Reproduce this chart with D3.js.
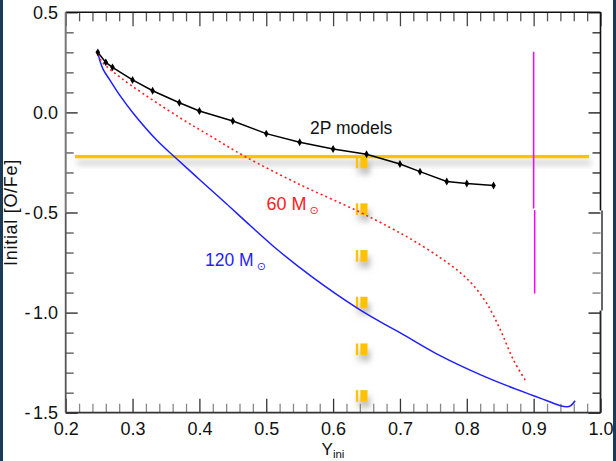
<!DOCTYPE html>
<html><head><meta charset="utf-8">
<script src="https://cdn.jsdelivr.net/npm/d3@7"></script>
<style>body{margin:0;background:#fff;}svg{display:block;font-family:"Liberation Sans",Arial,sans-serif;}</style>
</head><body>
<script>
// ---- data ----
const xTicksMajor = [0.2,0.3,0.4,0.5,0.6,0.7,0.8,0.9,1.0];
const yTicksMajor = [0.5,0.0,-0.5,-1.0,-1.5];
const xTwoP = [0.248,0.26,0.27,0.30,0.33,0.37,0.40,0.45,0.50,0.55,0.60,0.65,0.70,0.73,0.77,0.80,0.84];
const yTwoP = [0.30,0.25,0.225,0.162,0.108,0.048,0.007,-0.043,-0.106,-0.149,-0.183,-0.209,-0.258,-0.296,-0.345,-0.355,-0.365];
const x60 = [0.248,0.255,0.27,0.30,0.37,0.42,0.467,0.55,0.635,0.685,0.72,0.76,0.79,0.81,0.83,0.85,0.87,0.889];
const y60 = [0.29,0.25,0.205,0.13,-0.025,-0.125,-0.218,-0.36,-0.49,-0.575,-0.64,-0.725,-0.8,-0.865,-0.955,-1.085,-1.238,-1.346];
const x120 = [0.248,0.251,0.256,0.266,0.28,0.301,0.336,0.3635,0.40,0.44,0.476,0.52,0.57,0.635,0.67,0.70,0.76,0.82,0.86,0.90,0.92,0.94,0.95,0.955,0.962];
const y120 = [0.30,0.26,0.215,0.162,0.09,-0.004,-0.138,-0.224,-0.335,-0.455,-0.565,-0.695,-0.825,-0.975,-1.045,-1.10,-1.215,-1.31,-1.365,-1.415,-1.44,-1.465,-1.47,-1.466,-1.44];
const hLineY = -0.221;         // horizontal yellow line
const hLineX = [0.214, 0.983];
const vDashX = 0.643;          // yellow dashed vertical
const magentaX = [0.9, 0.9015];
const magentaY = [[0.303,-0.48],[-0.488,-0.905]];
const labels = {twoP:"2P models", m60:"60 M", m120:"120 M", sun:"\u2299", xTitle:"Y", xSub:"ini", yTitle:"Initial [O/Fe]"};

const W=616,H=461;
const svg=d3.select("body").append("svg").attr("width",W).attr("height",H);
const x=d3.scaleLinear([0.2,1.0],[65.7,600.5]);
const y=d3.scaleLinear([-1.5,0.5],[412.7,12.3]);

// frame side bands
svg.append("rect").attr("x",0).attr("y",0).attr("width",3).attr("height",H).attr("fill","#1b3a58");
svg.append("rect").attr("x",613).attr("y",0).attr("width",3).attr("height",H).attr("fill","#1b3a58");

const defs=svg.append("defs");
function shadow(id,op){
  const f=defs.append("filter").attr("id",id).attr("x","-100%").attr("y","-300%").attr("width","300%").attr("height","700%");
  f.append("feGaussianBlur").attr("in","SourceAlpha").attr("stdDeviation",3).attr("result","b");
  f.append("feOffset").attr("in","b").attr("dx",2).attr("dy",6).attr("result","o");
  f.append("feFlood").attr("flood-color","#808080").attr("flood-opacity",op).attr("result","c");
  f.append("feComposite").attr("in","c").attr("in2","o").attr("operator","in").attr("result","s");
  const m=f.append("feMerge"); m.append("feMergeNode").attr("in","s"); m.append("feMergeNode").attr("in","SourceGraphic");
}
shadow("sh",0.55); shadow("sh2",0.6);

// axes
const xMinor=d3.range(0.2,1.0001,0.02).filter(v=>Math.abs(v*10-Math.round(v*10))>1e-6);
const yMinor=d3.range(-1.5,0.5001,0.1).filter(v=>Math.abs(v*2-Math.round(v*2))>1e-6);

function styleAxis(g,col){g.select(".domain").remove();g.selectAll("line").attr("stroke",col).attr("stroke-width",1.3);}

const gb=svg.append("g").attr("transform",`translate(0,${y(-1.5)})`);
gb.call(d3.axisBottom(x).tickValues(xTicksMajor).tickSize(-14).tickPadding(9.5).tickFormat(d3.format(".1f")));
styleAxis(gb,"#333");
gb.selectAll("text").attr("font-size",18).attr("fill","#111");
const gbm=svg.append("g").attr("transform",`translate(0,${y(-1.5)})`).call(d3.axisBottom(x).tickValues(xMinor).tickSize(-9).tickFormat(""));
styleAxis(gbm,"#888");

const gt=svg.append("g").attr("transform",`translate(0,${y(0.5)})`).call(d3.axisTop(x).tickValues(xTicksMajor).tickSize(-14).tickFormat(""));
styleAxis(gt,"#444");
const gtm=svg.append("g").attr("transform",`translate(0,${y(0.5)})`).call(d3.axisTop(x).tickValues(xMinor).tickSize(-9).tickFormat(""));
styleAxis(gtm,"#555");

const gl=svg.append("g").attr("transform",`translate(${x(0.2)},0)`);
gl.call(d3.axisLeft(y).tickValues(yTicksMajor).tickSize(-12).tickPadding(7.7).tickFormat(d3.format(".1f")));
styleAxis(gl,"#222");
gl.selectAll("text").attr("font-size",18).attr("fill","#111").each(function(d){
  if(d<0){const t=d3.select(this);t.text("");t.append("tspan").text("-");t.append("tspan").attr("dx",2.5).text(d3.format(".1f")(-d));}
});
const glm=svg.append("g").attr("transform",`translate(${x(0.2)},0)`).call(d3.axisLeft(y).tickValues(yMinor).tickSize(-8).tickFormat(""));
styleAxis(glm,"#555");

const gr=svg.append("g").attr("transform",`translate(${x(1.0)},0)`).call(d3.axisRight(y).tickValues(yTicksMajor).tickSize(-12).tickFormat(""));
styleAxis(gr,"#111");
const grm=svg.append("g").attr("transform",`translate(${x(1.0)},0)`).call(d3.axisRight(y).tickValues(yMinor).tickSize(-8).tickFormat(""));
styleAxis(grm,"#222");
grm.selectAll(".tick").filter(d=>d<-0.5&&d>-1.0).selectAll("line").attr("stroke","#777");

// frame lines
svg.append("line").attr("x1",x(0.2)).attr("x2",x(1.0)).attr("y1",y(0.5)).attr("y2",y(0.5)).attr("stroke","#111").attr("stroke-width",1.6);
svg.append("line").attr("x1",x(0.2)).attr("x2",x(1.0)).attr("y1",y(-1.5)).attr("y2",y(-1.5)).attr("stroke","#333").attr("stroke-width",1.8);
svg.append("line").attr("x1",x(0.2)).attr("x2",x(0.2)).attr("y1",y(0.5)).attr("y2",y(-0.5)).attr("stroke","#777").attr("stroke-width",2);
svg.append("line").attr("x1",x(0.2)).attr("x2",x(0.2)).attr("y1",y(-0.5)).attr("y2",y(-1.5)).attr("stroke","#555").attr("stroke-width",1.8);
svg.append("line").attr("x1",x(1.0)).attr("x2",x(1.0)).attr("y1",y(0.5)).attr("y2",y(-0.49)).attr("stroke","#111").attr("stroke-width",1.6);
svg.append("line").attr("x1",x(1.0)+1.5).attr("x2",x(1.0)+1.5).attr("y1",y(-0.49)).attr("y2",y(-0.99)).attr("stroke","#666").attr("stroke-width",2);
svg.append("line").attr("x1",x(1.0)).attr("x2",x(1.0)).attr("y1",y(-0.99)).attr("y2",y(-1.5)).attr("stroke","#222").attr("stroke-width",1.8);

// axis titles
const xt=svg.append("text").attr("x",333).attr("y",455).attr("font-size",17).attr("fill","#111").attr("text-anchor","middle");
xt.append("tspan").text(labels.xTitle);
xt.append("tspan").attr("font-size",11.5).attr("dy",2.5).text(labels.xSub);
svg.append("text").attr("transform","translate(16.5,212.5) rotate(-90)").attr("text-anchor","middle")
  .attr("font-size",18).attr("letter-spacing",0.7).attr("fill","#111").text(labels.yTitle);

// yellow horizontal line with shadow
svg.append("rect").attr("x",x(hLineX[0])).attr("y",y(hLineY)-1.7).attr("width",x(hLineX[1])-x(hLineX[0])).attr("height",3.4)
  .attr("fill","#ffc200").attr("filter","url(#sh)");

// yellow dashed vertical
const dashStarts=d3.range(0,6).map(i=>y(hLineY)+i*46.7);
const dg=svg.append("g").attr("filter","url(#sh2)");
dashStarts.forEach(s=>{
  dg.append("rect").attr("x",x(vDashX)-6).attr("y",s).attr("width",2.4).attr("height",11.7).attr("fill","#ffc200");
  dg.append("rect").attr("x",x(vDashX)-1.5).attr("y",s).attr("width",7.2).attr("height",11.7).attr("fill","#ffc200");
});

// magenta
magentaY.forEach((seg,i)=>{
  svg.append("line").attr("x1",x(magentaX[i])).attr("x2",x(magentaX[i])).attr("y1",y(seg[0])).attr("y2",y(seg[1]))
    .attr("stroke","#ff00ff").attr("stroke-width",1.5);
});

// curves
const line=d3.line().x(d=>x(d[0])).y(d=>y(d[1]));
const sm=d3.line().x(d=>x(d[0])).y(d=>y(d[1])).curve(d3.curveCatmullRom);
svg.append("path").attr("d",sm(d3.zip(x120,y120))).attr("fill","none").attr("stroke","#1f1fff").attr("stroke-width",1.5);
svg.append("path").attr("d",sm(d3.zip(x60,y60))).attr("fill","none").attr("stroke","#ff2020").attr("stroke-width",1.6).attr("stroke-dasharray","2,3");
svg.append("path").attr("d",line(d3.zip(xTwoP,yTwoP))).attr("fill","none").attr("stroke","#000").attr("stroke-width",1.5);
svg.append("g").selectAll("path").data(d3.zip(xTwoP,yTwoP)).join("path")
  .attr("transform",d=>`translate(${x(d[0])},${y(d[1])})`).attr("d",d3.symbol(d3.symbolDiamond).size(18)).attr("fill","#000");

// labels
svg.append("text").attr("x",310).attr("y",134.3).attr("font-size",17.5).attr("fill","#111").text(labels.twoP);
const t60=svg.append("text").attr("x",266.5).attr("y",210).attr("font-size",18).attr("fill","#ff2020");
t60.append("tspan").text(labels.m60);
t60.append("tspan").attr("font-family","DejaVu Sans").attr("font-size",11).attr("dx",3).attr("dy",3.5).text(labels.sun);
const t120=svg.append("text").attr("x",205).attr("y",266).attr("font-size",17.5).attr("fill","#1f1fff");
t120.append("tspan").text(labels.m120);
t120.append("tspan").attr("font-family","DejaVu Sans").attr("font-size",11).attr("dx",3).attr("dy",3.5).text(labels.sun);
</script>
</body></html>
